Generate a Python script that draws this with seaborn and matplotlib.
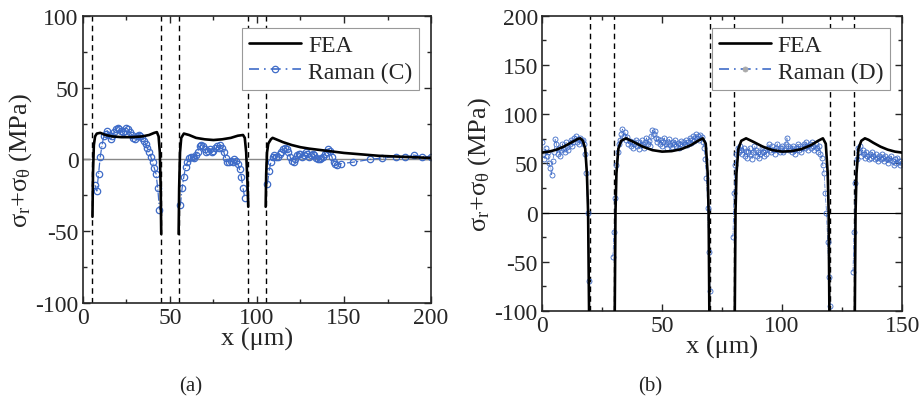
import numpy as np
import pandas as pd
import seaborn as sns
import matplotlib.pyplot as plt
from matplotlib.lines import Line2D
from matplotlib.ticker import MultipleLocator

# ---------------- panel (a) data ----------------
fea_a_x = [
    [5.5, 5.8, 6.3, 7, 8, 10, 13, 17, 22, 28, 34, 38, 41, 42.5, 43.5, 44.2, 44.7, 45],
    [55, 55.3, 55.8, 56.5, 58, 61, 65, 70, 75, 80, 85, 89, 92, 93, 93.8, 94.5, 95],
    [105, 105.3, 105.8, 106.5, 108, 109, 112, 115, 120, 125, 130, 140, 150, 160, 170, 180, 190, 200],
]
fea_a_y = [
    [-40, -10, 10, 16, 18, 18.5, 17, 16, 15.5, 15.5, 16, 17, 18.5, 19, 16, 5, -20, -52],
    [-52, -20, 5, 15, 18, 17, 15, 14, 13.5, 14, 15, 16.5, 17, 15, 5, -15, -33],
    [-33, -10, 5, 11, 14, 15, 13.5, 12, 10, 8.5, 7.5, 6, 4.5, 3.5, 2.5, 2, 1.5, 1],
]

raman_c_x = [
    list(range(7, 45)),
    list(range(56, 94)),
    list(range(106, 147)) + [148, 155, 165, 172, 180, 185, 190, 195, 200],
]
raman_c_y = [
    [-18, -22, -10, 2, 10, 16, 18, 20, 17, 14, 16, 19, 21, 22, 21, 20, 19, 20, 22,
     21, 19, 17, 15, 14, 16, 17, 16, 15, 13, 11, 8, 5, 2, -2, -6, -10, -20, -35],
    [-32, -20, -12, -5, -2, 1, 2, 2, 1, 3, 5, 9, 10, 9, 7, 5, 6, 7, 5,
     6, 8, 9, 8, 10, 8, 5, 1, -2, -2, -1, -2, 0, -1, -3, -7, -12, -20, -27],
    [-17, -8, -2, 2, 3, 2, 2, 4, 5, 7, 8, 7, 5, 2, -1, -2, 0, 3, 4, 4,
     2, 3, 5, 4, 2, 3, 4, 3, 1, 0, 0, 1, 2, 4, 5, 7, 6, 2, -2, -3, -4,
     -3, -2, 0, 1, 2, 2, 3, 2, 2],
]

# ---------------- panel (b) data ----------------
fea_b_x = [
    [0, 3, 6, 9, 12, 15, 16, 17, 18, 18.7, 19.2, 19.6],
    [30.3, 30.6, 31, 31.8, 33, 35, 38, 42, 46, 50, 54, 58, 62, 65, 67, 68.2, 69, 69.4, 69.7],
    [80.3, 80.6, 81, 81.8, 83, 85, 88, 92, 96, 100, 104, 108, 112, 115, 117, 118.2, 119, 119.4, 119.7],
    [130.3, 130.6, 131, 131.8, 133, 134.5, 136, 138, 141, 144, 147, 150],
]
fea_b_y = [
    [61, 62, 64, 67, 71, 75, 75.5, 73, 65, 40, 0, -100],
    [-100, 0, 40, 65, 73, 75.5, 72, 67, 63.5, 62, 62.5, 64.5, 68.5, 73, 75.5, 70, 40, 0, -100],
    [-100, 0, 40, 65, 73, 75.5, 72, 67, 63.5, 62, 62.5, 64.5, 68.5, 73, 75.5, 70, 40, 0, -100],
    [-100, 0, 40, 65, 73, 75.5, 74, 71, 67, 64, 62, 61],
]

raman_d_start = [0, 29.5, 79.5, 129.5]
raman_d_step = 0.5
raman_d_y = [
    [72, 60, 55, 66, 58, 62, 50, 45, 38, 52, 62, 75, 70, 60, 66, 58, 64, 70, 65, 62,
     72, 67, 64, 70, 74, 68, 72, 76, 78, 72, 75, 70, 76, 73, 74, 70, 60, 40, 0, -70],
    [-45, -20, 15, 48, 62, 70, 74, 80, 85, 78, 82, 74, 77, 70, 73, 68, 72, 66, 70, 74,
     68, 72, 65, 69, 74, 70, 66, 72, 76, 70, 73, 68, 78, 84, 80, 83, 76, 72, 75, 70,
     74, 68, 72, 76, 70, 66, 72, 75, 69, 67, 72, 70, 74, 68, 71, 66, 70, 73, 68, 72,
     70, 74, 69, 72, 76, 71, 74, 78, 73, 80, 76, 78, 74, 79, 77, 72, 66, 55, 35, 5,
     -40, -80],
    [-25, 20, 48, 60, 66, 62, 68, 64, 60, 66, 58, 63, 56, 62, 66, 60, 55, 62, 68, 64,
     58, 62, 56, 60, 66, 62, 58, 64, 60, 66, 70, 64, 62, 68, 64, 60, 66, 70, 64, 62,
     66, 68, 62, 64, 70, 76, 68, 64, 66, 62, 68, 64, 60, 66, 70, 64, 68, 62, 66, 70,
     66, 72, 68, 64, 70, 66, 72, 68, 64, 70, 66, 62, 68, 60, 56, 48, 40, 20, 0, -30,
     -65, -95],
    [-60, -20, 30, 55, 66, 62, 68, 58, 64, 60, 56, 62, 58, 54, 60, 56, 62, 58, 54, 60,
     56, 52, 58, 54, 60, 56, 52, 58, 55, 50, 56, 53, 58, 52, 48, 54, 50, 56, 52, 48,
     52, 50],
]
raman_d_x = [list(s + raman_d_step * np.arange(len(v))) for s, v in zip(raman_d_start, raman_d_y)]

vlines_a = [5, 45, 55, 95, 105]
vlines_b = [20, 30, 70, 80, 120, 130]


def to_frame(xs, ys):
    rows = []
    for i, (sx, sy) in enumerate(zip(xs, ys)):
        for x, y in zip(sx, sy):
            rows.append({'x': x, 'y': y, 'seg': i})
    return pd.DataFrame(rows)


sns.set_style('ticks')
plt.rcParams['font.family'] = ['Liberation Serif', 'DejaVu Serif']
plt.rcParams['mathtext.fontset'] = 'custom'
plt.rcParams['mathtext.rm'] = 'Liberation Serif'
plt.rcParams['mathtext.it'] = 'Liberation Serif'
plt.rcParams['axes.unicode_minus'] = False

blue = '#3f6cc8'
fig = plt.figure(figsize=(9.21, 4.02), dpi=100)
ax_a = fig.add_axes([0.090, 0.244, 0.378, 0.714])
ax_b = fig.add_axes([0.5885, 0.224, 0.391, 0.734])

panels = [
    (ax_a, fea_a_x, fea_a_y, raman_c_x, raman_c_y, vlines_a, 'Raman (C)', (0, 200), (-100, 100)),
    (ax_b, fea_b_x, fea_b_y, raman_d_x, raman_d_y, vlines_b, 'Raman (D)', (0, 150), (-100, 200)),
]

for ax, fx, fy, rx, ry, vl, rlab, xlim, ylim in panels:
    for v in vl:
        ax.axvline(v, color='black', ls=(0, (4, 3)), lw=1.0, zorder=1)
    if ax is ax_a:
        ax.axhline(0, color='#888888', lw=1.0, zorder=1)
        ms, mew, rlw = 4.6, 0.9, 0.9
    else:
        ax.axhline(0, color='black', lw=0.8, zorder=1)
        ms, mew, rlw = 3.6, 0.6, 0.5

    sns.lineplot(data=to_frame(rx, ry), x='x', y='y', units='seg', estimator=None, sort=False,
                 color=blue, lw=rlw, linestyle='-.', marker='o', markersize=ms,
                 markerfacecolor='none', markeredgecolor=blue, markeredgewidth=mew,
                 ax=ax, zorder=2)
    sns.lineplot(data=to_frame(fx, fy), x='x', y='y', units='seg', estimator=None, sort=False,
                 color='black', lw=1.9, ax=ax, zorder=3)

    ax.set_xlim(*xlim)
    ax.set_ylim(*ylim)
    ax.xaxis.set_major_locator(MultipleLocator(50))
    ax.xaxis.set_minor_locator(MultipleLocator(25))
    ax.yaxis.set_major_locator(MultipleLocator(50))
    ax.yaxis.set_minor_locator(MultipleLocator(25))
    ax.tick_params(which='both', direction='in', top=True, right=True, labelsize=17, width=1)
    ax.tick_params(which='major', length=5, pad=3)
    ax.tick_params(which='minor', length=3)
    for s in ax.spines.values():
        s.set_linewidth(1.2)
    ax.set_xlabel('x (\u03bcm)', fontsize=19, labelpad=-1)
    ax.set_ylabel('\u03c3$_\\mathrm{r}$+\u03c3$_\\mathrm{\u03b8}$ (MPa)', fontsize=19, labelpad=1)

    handles = [
        Line2D([], [], color='black', lw=1.9),
        Line2D([], [], color=blue, lw=1.2, linestyle=(0, (6, 3, 1, 3)), marker='o',
               markersize=ms, markerfacecolor='none' if ax is ax_a else '#aaaaaa',
               markeredgecolor=blue if ax is ax_a else '#aaaaaa', markeredgewidth=mew),
    ]
    leg = ax.legend(handles, ['FEA', rlab], loc='upper right', fontsize=17, frameon=True,
                    fancybox=False, edgecolor='#999999', framealpha=1, handlelength=2.2,
                    borderpad=0.3, labelspacing=0.2, handletextpad=0.3,
                    borderaxespad=0.5)
    leg.get_frame().set_linewidth(0.8)

fig.text(0.207, 0.025, '(a)', fontsize=15, ha='center')
fig.text(0.706, 0.025, '(b)', fontsize=15, ha='center')

fig.savefig('out.png', dpi=100)
